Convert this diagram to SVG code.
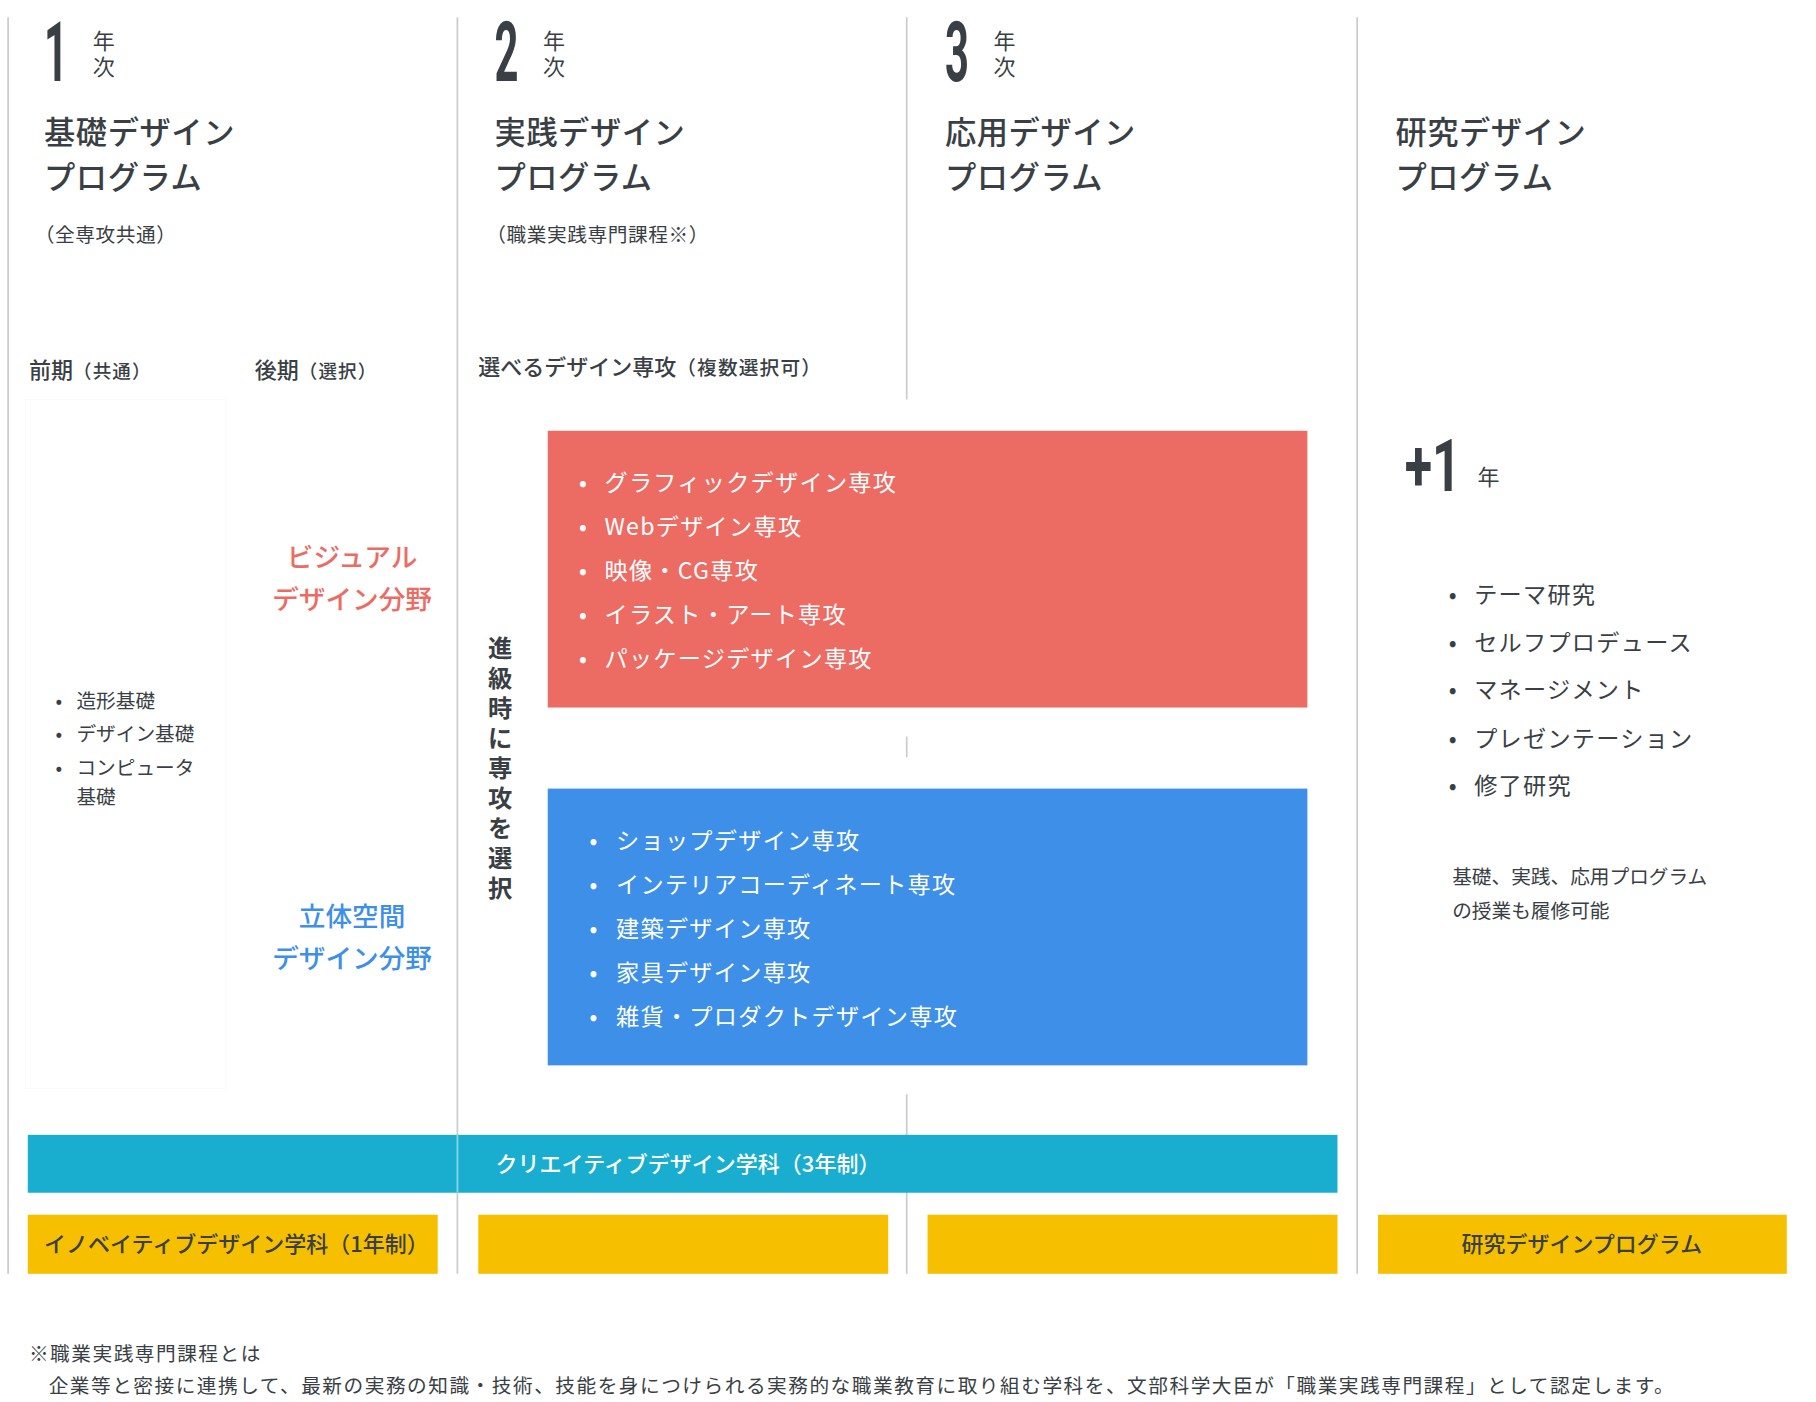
<svg xmlns="http://www.w3.org/2000/svg" width="1816" height="1402" viewBox="0 0 1816 1402">
<style>
text{font-family:"Noto Sans CJK JP","Noto Sans",sans-serif;fill:#3a3f45}
.num{font-family:"Roboto","Liberation Sans",sans-serif;font-weight:700;font-size:72px}
.yr{font-size:19px}
.ttl{font-size:27px;font-weight:500;letter-spacing:0.5px}
.sub{font-size:17px;letter-spacing:0.5px}
.hd{font-size:19px;font-weight:500}
.hs{font-size:16px;letter-spacing:1px}
.li{font-size:17px}
.w{fill:#fff;font-size:20px;letter-spacing:1.1px}
.fr{font-size:23px;font-weight:500;text-anchor:middle}
.vt{font-size:21px;font-weight:700;text-anchor:middle}
.rl{font-size:20px;letter-spacing:1.1px}
.bar{font-size:19px;font-weight:500}
.fn{font-size:17px;letter-spacing:1.3px}
.vl{stroke:#cccccc;stroke-width:1.5}
</style>
<rect width="1816" height="1402" fill="#fff"/>
<g transform="scale(1.158)">
<g id="lines">
<line class="vl" x1="7" y1="15" x2="7" y2="1100"/>
<line class="vl" x1="395" y1="15" x2="395" y2="1100"/>
<line class="vl" x1="783" y1="15" x2="783" y2="345"/>
<line class="vl" x1="783" y1="636" x2="783" y2="654"/>
<line class="vl" x1="783" y1="945" x2="783" y2="1100"/>
<line class="vl" x1="1172" y1="15" x2="1172" y2="1100"/>
</g>
<g id="col1">
<text class="num" transform="translate(38,70) scale(0.5,1)">1</text>
<text class="yr" x="80" y="42">年</text><text class="yr" x="80" y="65">次</text>
<text class="ttl" x="38" y="124">基礎デザイン</text>
<text class="ttl" x="38" y="163">プログラム</text>
<text class="sub" x="30" y="209">（全専攻共通）</text>
<text class="hd" x="25" y="326">前期<tspan class="hs">（共通）</tspan></text>
<text class="hd" x="220" y="326">後期<tspan class="hs">（選択）</tspan></text>
<rect x="22" y="345" width="173" height="595" fill="none" stroke="#fafafa"/>
<text class="li" x="48" y="611">•</text><text class="li" x="66" y="611">造形基礎</text>
<text class="li" x="48" y="640">•</text><text class="li" x="66" y="640">デザイン基礎</text>
<text class="li" x="48" y="669">•</text><text class="li" x="66" y="669">コンピュータ</text>
<text class="li" x="66" y="694">基礎</text>
<text class="fr" x="304" y="490" style="fill:#ec6c64">ビジュアル</text>
<text class="fr" x="304" y="526" style="fill:#ec6c64">デザイン分野</text>
<text class="fr" x="304" y="800" style="fill:#3e8fe8">立体空間</text>
<text class="fr" x="304" y="836" style="fill:#3e8fe8">デザイン分野</text>
</g>
<g id="col2">
<text class="num" transform="translate(427,70) scale(0.5,1)">2</text>
<text class="yr" x="469" y="42">年</text><text class="yr" x="469" y="65">次</text>
<text class="ttl" x="427" y="124">実践デザイン</text>
<text class="ttl" x="427" y="163">プログラム</text>
<text class="sub" x="420" y="209">（職業実践専門課程※）</text>
<text class="hd" x="413" y="324">選べるデザイン専攻<tspan class="hs" style="font-size:17px">（複数選択可）</tspan></text>
<text class="vt" x="432" y="567">進</text>
<text class="vt" x="432" y="593">級</text>
<text class="vt" x="432" y="619">時</text>
<text class="vt" x="432" y="645">に</text>
<text class="vt" x="432" y="671">専</text>
<text class="vt" x="432" y="697">攻</text>
<text class="vt" x="432" y="723">を</text>
<text class="vt" x="432" y="749">選</text>
<text class="vt" x="432" y="775">択</text>
</g>
<g id="col3">
<text class="num" transform="translate(816,70) scale(0.5,1)">3</text>
<text class="yr" x="858" y="42">年</text><text class="yr" x="858" y="65">次</text>
<text class="ttl" x="816" y="124">応用デザイン</text>
<text class="ttl" x="816" y="163">プログラム</text>
</g>
<g id="visual">
<rect x="473" y="372" width="656" height="239" fill="#ec6c64"/>
<text class="w" x="500" y="424">•</text><text class="w" x="522" y="424">グラフィックデザイン専攻</text>
<text class="w" x="500" y="462">•</text><text class="w" x="522" y="462">Webデザイン専攻</text>
<text class="w" x="500" y="500">•</text><text class="w" x="522" y="500">映像・CG専攻</text>
<text class="w" x="500" y="538">•</text><text class="w" x="522" y="538">イラスト・アート専攻</text>
<text class="w" x="500" y="576">•</text><text class="w" x="522" y="576">パッケージデザイン専攻</text>
</g>
<g id="space">
<rect x="473" y="681" width="656" height="239" fill="#3e8fe8"/>
<text class="w" x="509" y="733">•</text><text class="w" x="532" y="733">ショップデザイン専攻</text>
<text class="w" x="509" y="771">•</text><text class="w" x="532" y="771">インテリアコーディネート専攻</text>
<text class="w" x="509" y="809">•</text><text class="w" x="532" y="809">建築デザイン専攻</text>
<text class="w" x="509" y="847">•</text><text class="w" x="532" y="847">家具デザイン専攻</text>
<text class="w" x="509" y="885">•</text><text class="w" x="532" y="885">雑貨・プロダクトデザイン専攻</text>
</g>
<g id="col4">
<text class="ttl" x="1205" y="124">研究デザイン</text>
<text class="ttl" x="1205" y="163">プログラム</text>
<text class="num" transform="translate(1213,424) scale(0.7,1)" style="font-size:62px">+1</text>
<text class="yr" x="1276" y="419">年</text>
<text class="rl" x="1251" y="521">•</text><text class="rl" x="1273" y="521">テーマ研究</text>
<text class="rl" x="1251" y="562">•</text><text class="rl" x="1273" y="562">セルフプロデュース</text>
<text class="rl" x="1251" y="603">•</text><text class="rl" x="1273" y="603">マネージメント</text>
<text class="rl" x="1251" y="645">•</text><text class="rl" x="1273" y="645">プレゼンテーション</text>
<text class="rl" x="1251" y="686">•</text><text class="rl" x="1273" y="686">修了研究</text>
<text class="li" x="1254" y="763">基礎、実践、応用プログラム</text>
<text class="li" x="1254" y="793">の授業も履修可能</text>
</g>
<g id="bars">
<rect x="24" y="980" width="1131" height="50" fill="#19aed0"/>
<line x1="395" y1="980" x2="395" y2="1030" stroke="#8fd4e6" stroke-width="1.5"/>
<text class="bar" x="428" y="1012" style="fill:#fff">クリエイティブデザイン学科（3年制）</text>
<rect x="24" y="1049" width="354" height="51" fill="#f6c000"/>
<rect x="413" y="1049" width="354" height="51" fill="#f6c000"/>
<rect x="801" y="1049" width="354" height="51" fill="#f6c000"/>
<rect x="1190" y="1049" width="353" height="51" fill="#f6c000"/>
<text class="bar" x="38" y="1081">イノベイティブデザイン学科（1年制）</text>
<text class="bar" x="1366" y="1081" text-anchor="middle">研究デザインプログラム</text>
</g>
<g id="note">
<text class="fn" x="25" y="1175">※職業実践専門課程とは</text>
<text class="fn" x="42" y="1203">企業等と密接に連携して、最新の実務の知識・技術、技能を身につけられる実務的な職業教育に取り組む学科を、文部科学大臣が「職業実践専門課程」として認定します。</text>
</g>
</g>
</svg>
